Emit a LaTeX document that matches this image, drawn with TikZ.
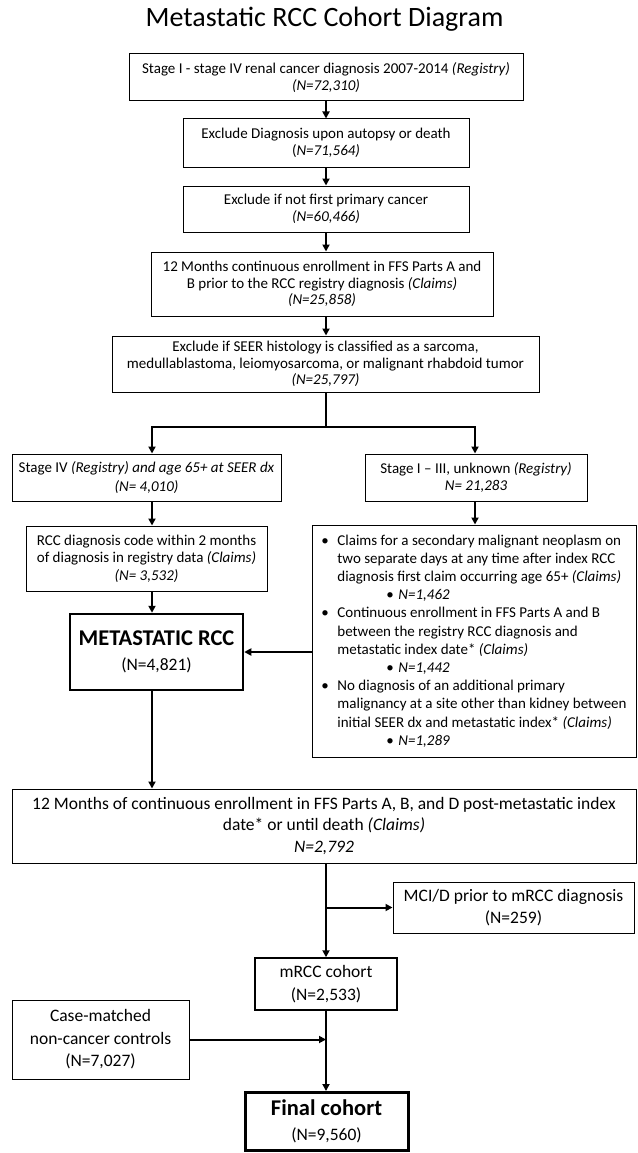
\documentclass[tikz,border=0pt]{standalone}
\usepackage{fontspec}
\setmainfont{Carlito}
\usetikzlibrary{arrows.meta}
\newcommand{\myfs}[2]{\fontsize{#1}{#2}\selectfont}
\begin{document}
\begin{tikzpicture}[x=1pt,y=-1pt,
  box/.style={draw, line width=1pt, align=center, inner sep=0pt, font=\myfs{15}{16.5}},
  bigbox/.style={box, font=\myfs{17.5}{22.5}},
  arr/.style={line width=2pt, -{Triangle[length=7pt,width=7pt]}},
  ln/.style={line width=2pt},
]
\fill[white] (0,0) rectangle (637,1153);
\useasboundingbox (0,0) rectangle (637,1153);

\node[font=\myfs{28}{34}] (title) at (324.5,19) {Metastatic RCC Cohort Diagram};

\node[box, minimum width=394pt, minimum height=47pt] (b1) at (326,77.5)
  {Stage I - stage IV renal cancer diagnosis 2007-2014 \textit{(Registry)}\\\textit{(N=72,310)}};
\node[box, minimum width=286pt, minimum height=48pt] (b2) at (326,143)
  {Exclude Diagnosis upon autopsy or death\\(\textit{N=71,564)}};
\node[box, minimum width=286pt, minimum height=46pt] (b3) at (326,209)
  {Exclude if not first primary cancer\\\textit{(N=60,466)}};
\node[box, minimum width=342pt, minimum height=64pt] (b4) at (322,284)
  {12 Months continuous enrollment in FFS Parts A and\\B prior to the RCC registry diagnosis \textit{(Claims)}\\\textit{(N=25,858)}};
\node[box, minimum width=427pt, minimum height=56pt] (b5) at (325.5,364)
  {Exclude if SEER histology is classified as a sarcoma,\\medullablastoma, leiomyosarcoma, or malignant rhabdoid tumor\\\textit{(N=25,797)}};

\node[box, font=\myfs{15}{19.5}, minimum width=269pt, minimum height=47pt] (b6) at (146.5,477.5)
  {Stage IV \textit{(Registry) and age 65+ at SEER dx}\\\textit{(N= 4,010)}};
\node[box, font=\myfs{15}{17}, minimum width=222pt, minimum height=47pt] (b8) at (476,477.5)
  {Stage I – III, unknown \textit{(Registry)}\\\textit{N= 21,283}};
\node[box, font=\myfs{15}{17.5}, minimum width=241pt, minimum height=65pt] (b7) at (146.5,558.5)
  {RCC diagnosis code within 2 months\\of diagnosis in registry data \textit{(Claims)}\\\textit{(N= 3,532)}};

\node[box, font=\myfs{15}{18.2}, align=left,
      minimum width=324pt, minimum height=232pt] (b9) at (474,641)
  {\makebox[16pt][l]{\textbullet}Claims for a secondary malignant neoplasm on\\
   \hspace*{16pt}two separate days at any time after index RCC\\
   \hspace*{16pt}diagnosis first claim occurring age 65+ \textit{(Claims)}\\
   \hspace*{65pt}\makebox[12pt][l]{\textbullet}\textit{N=1,462}\\
   \makebox[16pt][l]{\textbullet}Continuous enrollment in FFS Parts A and B\\
   \hspace*{16pt}between the registry RCC diagnosis and\\
   \hspace*{16pt}metastatic index date* \textit{(Claims)}\\
   \hspace*{65pt}\makebox[12pt][l]{\textbullet}\textit{N=1,442}\\
   \makebox[16pt][l]{\textbullet}No diagnosis of an additional primary\\
   \hspace*{16pt}malignancy at a site other than kidney between\\
   \hspace*{16pt}initial SEER dx and metastatic index* \textit{(Claims)}\\
   \hspace*{65pt}\makebox[12pt][l]{\textbullet}\textit{N=1,289}};

\node[box, line width=2.5pt, font=\myfs{17.5}{25}, minimum width=173pt, minimum height=76pt] (meta) at (156.5,652)
  {{\myfs{22.5}{25}\bfseries METASTATIC RCC}\\(N=4,821)};

\node[box, font=\myfs{17.5}{21.5}, minimum width=624pt, minimum height=74pt] (b10) at (324,826)
  {12 Months of continuous enrollment in FFS Parts A, B, and D post-metastatic index\\date* or until death \textit{(Claims)}\\\textit{N=2,792}};

\node[bigbox, minimum width=241pt, minimum height=51pt] (mci) at (513.5,907.5)
  {MCI/D prior to mRCC diagnosis\\(N=259)};
\node[bigbox, line width=1.5pt, minimum width=142pt, minimum height=52pt] (mrcc) at (326,984)
  {mRCC cohort\\(N=2,533)};
\node[bigbox, minimum width=177pt, minimum height=79pt] (case) at (100.5,1039.5)
  {Case-matched\\non-cancer controls\\(N=7,027)};
\node[box, line width=3pt, font=\myfs{17.5}{25}, minimum width=163pt, minimum height=58pt] (final) at (326.5,1121.5)
  {{\myfs{22.5}{25}\bfseries Final cohort}\\(N=9,560)};

% coordinates
\coordinate (sp) at (326,427);
\coordinate (spL) at (152,427);
\coordinate (spR) at (475,427);
\coordinate (mcij) at (326,907.5);
\coordinate (cj) at (326,1039.5);

% connectors
\draw[arr] (b1.south -| sp) -- (b2.north -| sp);
\draw[arr] (b2.south -| sp) -- (b3.north -| sp);
\draw[arr] (b3.south -| sp) -- (b4.north -| sp);
\draw[arr] (b4.south -| sp) -- (b5.north -| sp);
\draw[ln] (b5.south -| sp) -- (sp);
\draw[arr] (sp) -- (spL) -- (spL |- b6.north);
\draw[arr] (sp) -- (spR) -- (spR |- b8.north);
\draw[arr] (spL |- b6.south) -- (spL |- b7.north);
\draw[arr] (spL |- b7.south) -- (spL |- meta.north);
\draw[arr] (spR |- b8.south) -- (spR |- b9.north);
\draw[arr] (b9.west |- meta.east) -- (meta.east);
\draw[arr] (spL |- meta.south) -- (spL |- b10.north);
\draw[arr] (mrcc.north |- b10.south) -- (mrcc.north);
\draw[arr] (mcij) -- (mci.west);
\draw[arr] (mrcc.south) -- (mrcc.south |- final.north);
\draw[arr] (case.east) -- (cj);
\end{tikzpicture}
\end{document}
